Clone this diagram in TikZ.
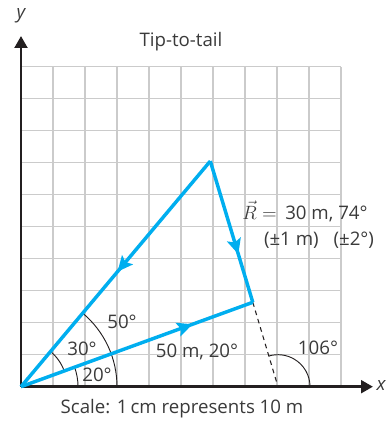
\documentclass[tikz,border=0pt]{standalone}
\usepackage{fontspec}
\setmainfont{Open Sans}
\usetikzlibrary{arrows.meta,decorations.markings}
\definecolor{vecblue}{HTML}{00AEEF}
\definecolor{gridgray}{HTML}{CBCBCB}
\definecolor{axisblack}{HTML}{231F20}
\definecolor{txt}{HTML}{3A3A3A}
\tikzset{
  vec/.style={draw=vecblue, line width=2.6pt, line join=miter},
  vecmark/.style={postaction={decorate, decoration={markings,
     mark=at position #1 with {\arrow{Stealth[length=11.5pt,width=10.5pt,inset=2.2pt,color=vecblue]}}}}},
  axis/.style={draw=axisblack, line width=2.2pt, -{Triangle[length=9pt,width=9.5pt]}},
  anglearc/.style={draw=axisblack, line width=0.7pt},
  lab/.style={text=txt, font=\fontsize{14}{16}\selectfont, inner sep=0pt},
}
\begin{document}
\begin{tikzpicture}[x=0.75pt,y=0.75pt]
\useasboundingbox (0,0) rectangle (387,421);
% grid
\foreach \i in {1,...,10} {
  \draw[gridgray, line width=0.8pt] (21+32*\i,34.3) -- (21+32*\i,354.3);
  \draw[gridgray, line width=0.8pt] (21,34.3+32*\i) -- (341,34.3+32*\i);
}
% points
\coordinate (O) at (21,34.3);
\coordinate (A) at (252.8,118.7);
\coordinate (B) at (210.3,259.9);
\coordinate (D) at (278.0,34.3);
\coordinate (xend) at (373,34.3);
\coordinate (yend) at (21,385);
% dashed extension
\draw[axisblack, line width=0.8pt, dash pattern=on 3.5pt off 3pt] (A) -- (D);
% angle arcs
\draw[anglearc] (O) ++(57,0) arc[start angle=0, end angle=20, radius=57];
\draw[anglearc] (O) ++(20:46) arc[start angle=20, end angle=50, radius=46];
\draw[anglearc] (O) ++(96,0) arc[start angle=0, end angle=50, radius=96];
\draw[anglearc] (D) ++(32,0) arc[start angle=0, end angle=106.7, radius=32];
% axes
\draw[axis] (O) -- (xend);
\draw[axis] (O) -- (yend);
% vectors
\draw[vec, vecmark=0.74] (O) -- (A);
\draw[vec, vecmark=0.66] (B) -- (A);
\draw[vec, vecmark=0.49] (B) -- (O);
% labels
\node[lab, font=\fontsize{14}{16}\selectfont\itshape] (ylab) at (21,405) {y};
\node[lab, font=\fontsize{14}{16}\selectfont\itshape] (xlab) at (381,35) {x};
\node[lab] (title) at (181,379.3) {Tip-to-tail};
\node[lab] (l50) at (122,99) {50°};
\node[lab] (l30) at (82,72) {30°};
\node[lab] (l20) at (97,46) {20°};
\node[lab] (l1) at (197,69) {50 m, 20°};
\node[lab] (l106) at (318,73) {106°};
\node[lab] (lR) at (305,209.3) {$\vec{R}={}$\,30 m, 74°};
\node[lab] (lerr) at (319,181) {(±1 m)\hspace{0.8em}(±2°)};
\node[lab] (scale) at (182,12) {Scale: 1\,cm represents 10 m};
\end{tikzpicture}
\end{document}
